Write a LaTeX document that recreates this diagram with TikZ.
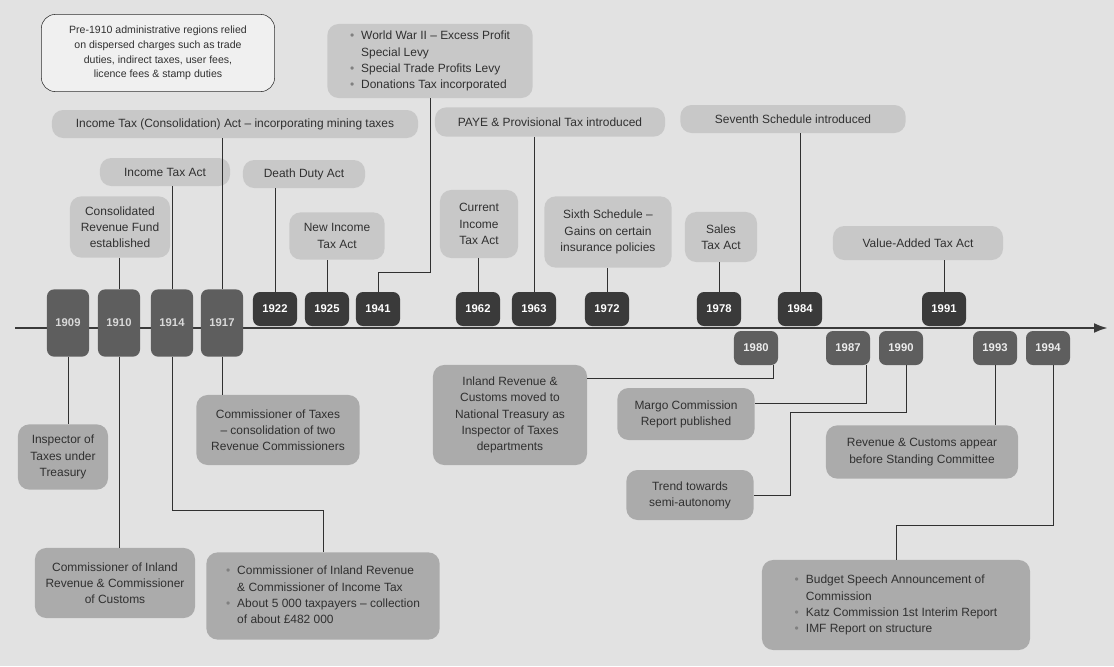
\documentclass[tikz,border=0pt]{standalone}
\usepackage{fontspec}
\setmainfont{Liberation Sans}
\usepackage{xcolor}
\usepackage{tikz}
\usetikzlibrary{arrows.meta, positioning}

\definecolor{paper}{HTML}{E2E2E2}
\definecolor{yrdark}{HTML}{3A3A3A}
\definecolor{yrmid}{HTML}{5E5E5E}
\definecolor{evlight}{HTML}{C8C8C8}
\definecolor{evdark}{HTML}{ABABAB}
\definecolor{ink}{HTML}{303030}

\newcommand{\blt}{\textcolor{gray}{\textbullet}}

\begin{document}
\begin{tikzpicture}[
  x=0.025cm, y=-0.025cm,
  yr/.style={
    rounded corners=5pt,
    inner sep=0pt,
    outer sep=0pt,
    minimum width=1.1cm,
    minimum height=0.85cm,
    font=\bfseries\fontsize{8}{9}\selectfont
  },
  yrup/.style={yr, fill=yrdark, text=white},
  yrlow/.style={yr, fill=yrmid, text=gray!15},
  yrlong/.style={yr, fill=yrmid, text=gray!30, minimum width=1.05cm, minimum height=1.68cm},
  ev/.style={
    rounded corners=8pt,
    inner sep=2pt,
    align=center,
    text=ink,
    font=\fontsize{8.5}{11.5}\selectfont
  },
  evtop/.style={ev, fill=evlight},
  evbot/.style={ev, fill=evdark},
  link/.style={draw=ink, line width=0.6pt},
  timeaxis/.style={
    -{Latex[length=3.5mm, width=2.5mm]},
    line width=1.8pt,
    draw=yrdark
  }
]

% Page
\useasboundingbox (0,0) rectangle (1114,666);
\fill[paper] (0,0) rectangle (1114,666);

% Axis
\coordinate (axl) at (15,328);
\coordinate (axr) at (1108,328);
\draw [timeaxis] (axl) -- (axr);

% Years
\node [yrlong] (y1909) at (68,323) {1909};
\node [yrlong] (y1910) at (119,323) {1910};
\node [yrlong] (y1914) at (172,323) {1914};
\node [yrlong] (y1917) at (222,323) {1917};
\node [yrup] (y1922) at (275,309) {1922};
\node [yrup] (y1925) at (327,309) {1925};
\node [yrup] (y1941) at (378,309) {1941};
\node [yrup] (y1962) at (478,309) {1962};
\node [yrup] (y1963) at (534,309) {1963};
\node [yrup] (y1972) at (607,309) {1972};
\node [yrup] (y1978) at (719,309) {1978};
\node [yrup] (y1984) at (800,309) {1984};
\node [yrup] (y1991) at (944,309) {1991};
\node [yrlow] (y1980) at (756,348) {1980};
\node [yrlow] (y1987) at (848,348) {1987};
\node [yrlow] (y1990) at (901,348) {1990};
\node [yrlow] (y1993) at (995,348) {1993};
\node [yrlow] (y1994) at (1048,348) {1994};

% Events above the axis
\node [ev, draw=ink, fill=gray!12, rounded corners=10pt, font=\fontsize{7.5}{10.5}\selectfont,
  minimum width=5.83cm, minimum height=1.93cm] (pre) at (158,53)
  {Pre-1910 administrative regions relied\\on dispersed charges such as trade\\duties, indirect taxes, user fees,\\licence fees \& stamp duties};
\node [evtop, minimum width=9.15cm, minimum height=0.7cm] (consol) at (235,124)
  {Income Tax (Consolidation) Act -- incorporating mining taxes};
\node [evtop, minimum width=3.25cm, minimum height=0.7cm] (inc14) at (165,172) {Income Tax Act};
\node [evtop, minimum width=3.05cm, minimum height=0.7cm] (death) at (304,174) {Death Duty Act};
\node [evtop, minimum width=2.5cm, minimum height=1.53cm] (crf) at (120,227)
  {Consolidated\\Revenue Fund\\established};
\node [evtop, minimum width=2.38cm, minimum height=1.18cm] (newinc) at (337,236) {New Income\\Tax Act};
\node [evtop, align=left, minimum width=5.13cm, minimum height=1.85cm] (ww2) at (430,61)
  {\begin{tabular}{@{}l@{\hspace{5pt}}l@{}}
    \blt & World War II -- Excess Profit\\
         & Special Levy\\
    \blt & Special Trade Profits Levy\\
    \blt & Donations Tax incorporated
  \end{tabular}};
\node [evtop, minimum width=5.75cm, minimum height=0.73cm] (paye) at (550,122)
  {PAYE \& Provisional Tax introduced};
\node [evtop, minimum width=1.95cm, minimum height=1.7cm] (curinc) at (479,224) {Current\\Income\\Tax Act};
\node [evtop, minimum width=3.18cm, minimum height=1.78cm] (sixth) at (608,232)
  {Sixth Schedule --\\Gains on certain\\insurance policies};
\node [evtop, minimum width=5.63cm, minimum height=0.7cm] (seventh) at (793,119)
  {Seventh Schedule introduced};
\node [evtop, minimum width=1.8cm, minimum height=1.25cm] (sales) at (721,237) {Sales\\Tax Act};
\node [evtop, minimum width=4.25cm, minimum height=0.85cm] (vat) at (918,243) {Value-Added Tax Act};

% Events below the axis
\node [evbot, minimum width=2.25cm, minimum height=1.63cm] (insp) at (63,457)
  {Inspector of\\Taxes under\\Treasury};
\node [evbot, minimum width=4cm, minimum height=1.75cm] (cire) at (115,583)
  {Commissioner of Inland\\Revenue \& Commissioner\\of Customs};
\node [evbot, minimum width=4.08cm, minimum height=1.75cm] (comtax) at (278,430)
  {Commissioner of Taxes\\-- consolidation of two\\Revenue Commissioners};
\node [evbot, align=left, minimum width=5.83cm, minimum height=2.18cm] (cirt) at (323,596)
  {\begin{tabular}{@{}l@{\hspace{5pt}}l@{}}
    \blt & Commissioner of Inland Revenue\\
         & \& Commissioner of Income Tax\\
    \blt & About 5 000 taxpayers -- collection\\
         & of about £482 000
  \end{tabular}};
\node [evbot, minimum width=3.85cm, minimum height=2.5cm] (inland) at (510,415)
  {Inland Revenue \&\\Customs moved to\\National Treasury as\\Inspector of Taxes\\departments};
\node [evbot, minimum width=3.43cm, minimum height=1.3cm] (margo) at (686,414)
  {Margo Commission\\Report published};
\node [evbot, minimum width=3.18cm, minimum height=1.25cm] (trend) at (690,495)
  {Trend towards\\semi-autonomy};
\node [evbot, minimum width=4.8cm, minimum height=1.33cm] (rev) at (922,452)
  {Revenue \& Customs appear\\before Standing Committee};
\node [evbot, align=left, minimum width=6.7cm, minimum height=2.25cm] (imf) at (896,605)
  {\begin{tabular}{@{}l@{\hspace{5pt}}l@{}}
    \blt & Budget Speech Announcement of\\
         & Commission\\
    \blt & Katz Commission 1st Interim Report\\
    \blt & IMF Report on structure
  \end{tabular}};

% Links above
\draw [link] (y1910.north |- crf.south) -- (y1910.north);
\draw [link] (y1914.north |- inc14.south) -- (y1914.north);
\draw [link] (y1917.north |- consol.south) -- (y1917.north);
\draw [link] (y1922.north |- death.south) -- (y1922.north);
\draw [link] (y1925.north |- newinc.south) -- (y1925.north);
\draw [link] (ww2.south) -- (ww2.south |- 0,272) -| (y1941.north);
\draw [link] (y1962.north |- curinc.south) -- (y1962.north);
\draw [link] (y1963.north |- paye.south) -- (y1963.north);
\draw [link] (y1972.north |- sixth.south) -- (y1972.north);
\draw [link] (y1978.north |- sales.south) -- (y1978.north);
\draw [link] (y1984.north |- seventh.south) -- (y1984.north);
\draw [link] (y1991.north |- vat.south) -- (y1991.north);

% Links below
\coordinate (elb90) at (790,412);
\draw [link] (y1909.south) -- (y1909.south |- insp.north);
\draw [link] (y1910.south) -- (y1910.south |- cire.north);
\draw [link] (y1914.south) -- (y1914.south |- 0,510) -| (cirt.north);
\draw [link] (y1917.south) -- (y1917.south |- comtax.north);
\draw [link] ([xshift=0.425cm]y1980.south) |- (inland.east |- 0,378);
\draw [link] ([xshift=0.45cm]y1987.south) |- (margo.east |- 0,403);
\draw [link] ([xshift=0.125cm]y1990.south) |- (elb90) |- (trend.east);
\draw [link] (y1993.south) -- (y1993.south |- rev.north);
\draw [link] ([xshift=0.125cm]y1994.south) -- ([xshift=0.125cm]y1994.south |- 0,525) -| (imf.north);

\end{tikzpicture}
\end{document}
